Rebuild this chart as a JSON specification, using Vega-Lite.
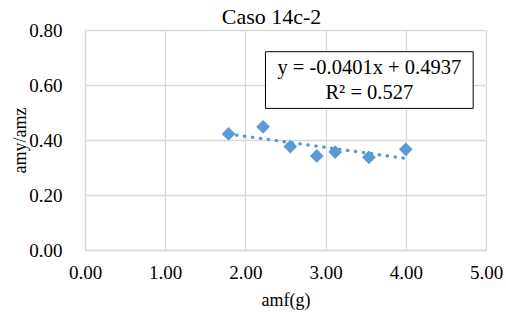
{
  "$schema": "https://vega.github.io/schema/vega-lite/v6.json",
  "width": 401,
  "height": 220,
  "autosize": {"type": "none"},
  "padding": {"left": 85, "top": 30, "right": 20, "bottom": 70},
  "background": "white",
  "title": {"text": "Caso 14c-2", "font": "Liberation Serif", "fontSize": 22, "fontWeight": "normal", "color": "#000000", "offset": -8, "dx": -14},
  "config": {
    "view": {"stroke": null},
    "axis": {"labelFont": "Liberation Serif", "titleFont": "Liberation Serif", "labelFontSize": 19, "titleFontSize": 18, "labelColor": "#000", "titleColor": "#000", "titleFontWeight": "normal", "gridColor": "#d9d9d9", "gridWidth": 1.3, "domainColor": "#d9d9d9", "domainWidth": 1.3, "ticks": false, "labelFlush": false}
  },
  "datasets": {
    "pts": [
      {"x": 1.79, "y": 0.422},
      {"x": 2.22, "y": 0.448},
      {"x": 2.56, "y": 0.376},
      {"x": 2.89, "y": 0.342},
      {"x": 3.12, "y": 0.356},
      {"x": 3.54, "y": 0.337},
      {"x": 4.0, "y": 0.366}
    ],
    "note": [
      {"x": 2.25, "x2": 4.84, "y": 0.721, "y2": 0.515, "tx": 3.545, "ty": 0.661, "label": "y = -0.0401x + 0.4937\nR² = 0.527"}
    ]
  },
  "layer": [
    {
      "data": {"name": "pts"},
      "transform": [{"regression": "y", "on": "x"}],
      "mark": {"type": "line", "color": "#5B9BD5", "strokeWidth": 3.3, "strokeCap": "round", "strokeDash": [0.5, 7.5]},
      "encoding": {
        "x": {"field": "x", "type": "quantitative", "scale": {"domain": [0, 5], "nice": false},
          "axis": {"values": [0, 1, 2, 3, 4, 5], "format": ".2f", "labelPadding": 13, "title": "amf(g)", "titlePadding": 9}},
        "y": {"field": "y", "type": "quantitative", "scale": {"domain": [0, 0.8], "nice": false},
          "axis": {"values": [0, 0.2, 0.4, 0.6, 0.8], "format": ".2f", "labelPadding": 23, "title": "amy/amz", "titleX": -65, "titleY": 110, "titleAngle": -90, "titleAlign": "center", "titleBaseline": "middle"}}
      }
    },
    {
      "data": {"name": "pts"},
      "mark": {"type": "point", "shape": "diamond", "filled": true, "size": 190, "color": "#5B9BD5", "opacity": 1},
      "encoding": {
        "x": {"field": "x", "type": "quantitative"},
        "y": {"field": "y", "type": "quantitative"}
      }
    },
    {
      "data": {"name": "note"},
      "mark": {"type": "rect", "fill": "white", "stroke": "black", "strokeWidth": 1},
      "encoding": {
        "x": {"field": "x", "type": "quantitative"},
        "x2": {"field": "x2"},
        "y": {"field": "y", "type": "quantitative"},
        "y2": {"field": "y2"}
      }
    },
    {
      "data": {"name": "note"},
      "mark": {"type": "text", "font": "Liberation Serif", "fontSize": 20.5, "color": "#000", "align": "center", "baseline": "middle", "lineBreak": "\n", "lineHeight": 24.5},
      "encoding": {
        "x": {"field": "tx", "type": "quantitative"},
        "y": {"field": "ty", "type": "quantitative"},
        "text": {"field": "label"}
      }
    }
  ]
}
